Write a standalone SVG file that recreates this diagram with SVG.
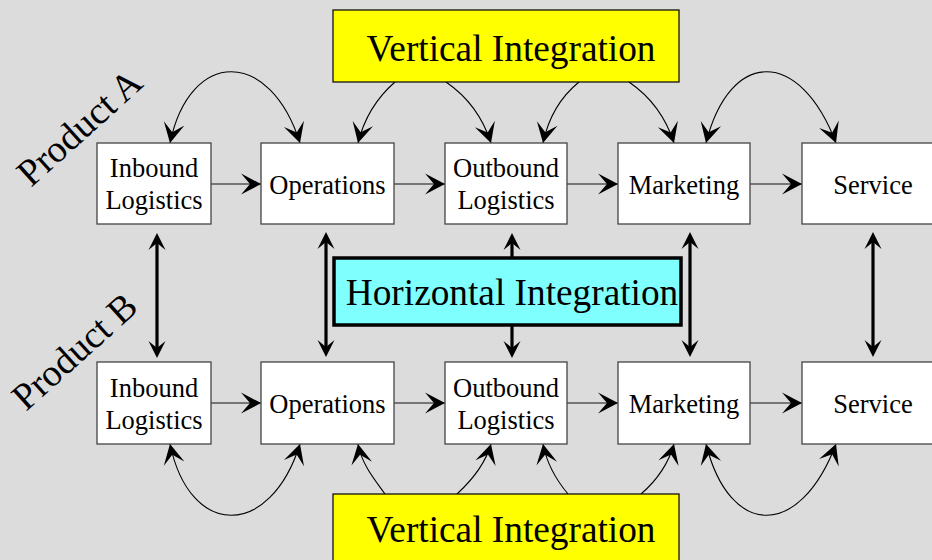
<svg xmlns="http://www.w3.org/2000/svg" width="932" height="560" viewBox="0 0 932 560">
<style>
.bg{fill:#dcdcdc}
.box{fill:#ffffff;stroke:#444;stroke-width:1.3}
.vi{fill:#ffff00;stroke:#000;stroke-width:1.2}
.hi{fill:#80ffff;stroke:#000;stroke-width:3.5}
.t{font-family:"Liberation Serif","Times New Roman",serif;font-size:26.5px;fill:#000;text-anchor:middle}
.big{font-family:"Liberation Serif","Times New Roman",serif;font-size:37.3px;fill:#000;text-anchor:middle}
.prod{font-family:"Liberation Serif","Times New Roman",serif;font-size:38px;fill:#000}
.flow{fill:none;stroke:#555;stroke-width:1.5;marker-end:url(#ah)}
.curve{fill:none;stroke:#000;stroke-width:1.1}
.thick{fill:none;stroke:#000;stroke-width:3.2;marker-start:url(#th);marker-end:url(#th)}
</style>
<defs>
<marker id="ah" markerUnits="userSpaceOnUse" orient="auto-start-reverse" viewBox="-22 -12 24 24" markerWidth="24" markerHeight="24" refX="0" refY="0">
<path d="M0,0 L-20,-10.5 L-11,0 L-20,10.5 Z" fill="#000"/>
</marker>
<marker id="th" markerUnits="userSpaceOnUse" orient="auto-start-reverse" viewBox="-20 -10 22 20" markerWidth="22" markerHeight="20" refX="-8" refY="0">
<path d="M0,0 L-17,-8.5 L-10,0 L-17,8.5 Z" fill="#000"/>
</marker>
</defs>
<rect class="bg" x="0" y="0" width="932" height="560"/>

<g id="connectors">
<path class="flow" d="M211,184 L261,184"/>
<path class="flow" d="M394,184 L445,184"/>
<path class="flow" d="M567,184 L618,184"/>
<path class="flow" d="M750,184 L802,184"/>
<path class="flow" d="M211,403 L261,403"/>
<path class="flow" d="M394,403 L445,403"/>
<path class="flow" d="M567,403 L618,403"/>
<path class="flow" d="M750,403 L802,403"/>
<path class="curve" d="M170,143 C190,48 270,48 300,143" marker-start="url(#ah)" marker-end="url(#ah)"/>
<path class="curve" d="M395,82 C380,95 365,115 358,143" marker-end="url(#ah)"/>
<path class="curve" d="M446,82 C465,95 482,115 491,143" marker-end="url(#ah)"/>
<path class="curve" d="M579,82 C563,95 549,115 543,143" marker-end="url(#ah)"/>
<path class="curve" d="M629,82 C648,95 665,115 674,143" marker-end="url(#ah)"/>
<path class="curve" d="M706,143 C730,48 800,48 836,143" marker-start="url(#ah)" marker-end="url(#ah)"/>
<path class="curve" d="M170,444 C190,539 270,539 300,444" marker-start="url(#ah)" marker-end="url(#ah)"/>
<path class="curve" d="M385,494 C375,480 362,465 358,444" marker-end="url(#ah)"/>
<path class="curve" d="M457,494 C470,482 485,465 491,444" marker-end="url(#ah)"/>
<path class="curve" d="M568,494 C558,482 547,465 543,444" marker-end="url(#ah)"/>
<path class="curve" d="M641,494 C655,482 668,465 674,444" marker-end="url(#ah)"/>
<path class="curve" d="M706,444 C730,539 800,539 836,444" marker-start="url(#ah)" marker-end="url(#ah)"/>
<path class="thick" d="M157,241 L157,350"/>
<path class="thick" d="M326,240 L326,349"/>
<path class="thick" d="M512,241 L512,350"/>
<path class="thick" d="M690,240 L690,349"/>
<path class="thick" d="M873,240 L873,349"/>
</g>

<g id="vi-top"><rect class="vi" x="333" y="10" width="346" height="72"/><text class="big" x="511" y="61">Vertical Integration</text></g>
<g id="vi-bottom"><rect class="vi" x="333" y="494" width="346" height="80"/><text class="big" x="511" y="542">Vertical Integration</text></g>
<g id="hi"><rect class="hi" x="334" y="258" width="347" height="67"/><text class="big" x="512" y="305">Horizontal Integration</text></g>

<g id="a-inbound"><rect class="box" x="97" y="143" width="114" height="81"/><text class="t" x="154" y="177">Inbound</text><text class="t" x="154" y="209">Logistics</text></g>
<g id="a-operations"><rect class="box" x="261" y="143" width="133" height="81"/><text class="t" x="327.5" y="194">Operations</text></g>
<g id="a-outbound"><rect class="box" x="445" y="143" width="122" height="81"/><text class="t" x="506" y="177">Outbound</text><text class="t" x="506" y="209">Logistics</text></g>
<g id="a-marketing"><rect class="box" x="618" y="143" width="132" height="81"/><text class="t" x="684" y="194">Marketing</text></g>
<g id="a-service"><rect class="box" x="802" y="143" width="142" height="81"/><text class="t" x="873" y="194">Service</text></g>

<g id="b-inbound"><rect class="box" x="97" y="362" width="114" height="82"/><text class="t" x="154" y="397">Inbound</text><text class="t" x="154" y="429">Logistics</text></g>
<g id="b-operations"><rect class="box" x="261" y="362" width="133" height="82"/><text class="t" x="327.5" y="413">Operations</text></g>
<g id="b-outbound"><rect class="box" x="445" y="362" width="122" height="82"/><text class="t" x="506" y="397">Outbound</text><text class="t" x="506" y="429">Logistics</text></g>
<g id="b-marketing"><rect class="box" x="618" y="362" width="132" height="82"/><text class="t" x="684" y="413">Marketing</text></g>
<g id="b-service"><rect class="box" x="802" y="362" width="142" height="82"/><text class="t" x="873" y="413">Service</text></g>

<g id="label-a"><text class="prod" transform="translate(31,188) rotate(-42)">Product A</text></g>
<g id="label-b"><text class="prod" transform="translate(26,412) rotate(-42)">Product B</text></g>
</svg>
